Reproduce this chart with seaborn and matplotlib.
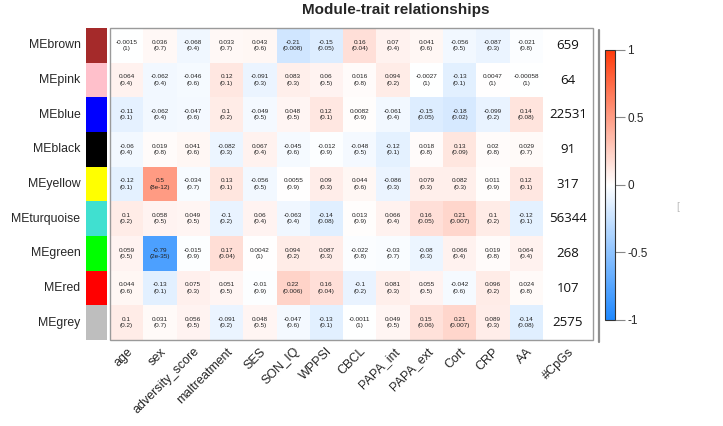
import numpy as np
import pandas as pd
import matplotlib
matplotlib.use("Agg")
import matplotlib.pyplot as plt
import seaborn as sns
from matplotlib.colors import LinearSegmentedColormap, ListedColormap
from matplotlib.patches import Rectangle
from matplotlib.lines import Line2D

# ---------------- data ----------------
modules = ["MEbrown", "MEpink", "MEblue", "MEblack", "MEyellow",
           "MEturquoise", "MEgreen", "MEred", "MEgrey"]
module_colors = ["#A52A2A", "#FFC0CB", "#0000FF", "#000000", "#FFFF00",
                 "#40E0D0", "#00FF00", "#FF0000", "#BEBEBE"]
traits = ["age", "sex", "adversity_score", "maltreatment", "SES", "SON_IQ",
          "WPPSI", "CBCL", "PAPA_int", "PAPA_ext", "Cort", "CRP", "AA"]
cpgs = [659, 64, 22531, 91, 317, 56344, 268, 107, 2575]

cor_brown = [-0.0015, 0.036, -0.068, 0.033, 0.043, -0.21, -0.15, 0.16, 0.07, 0.041, -0.056, -0.087, -0.021]
p_brown = [1, 0.7, 0.4, 0.7, 0.6, 0.008, 0.05, 0.04, 0.4, 0.6, 0.5, 0.3, 0.8]
cor_pink = [0.064, -0.062, -0.046, 0.12, -0.091, 0.083, 0.06, 0.016, 0.094, -0.0027, -0.13, 0.0047, -0.00058]
p_pink = [0.4, 0.4, 0.6, 0.1, 0.3, 0.3, 0.5, 0.8, 0.2, 1, 0.1, 1, 1]
cor_blue = [-0.11, -0.062, -0.047, 0.1, -0.049, 0.048, 0.12, 0.0082, -0.061, -0.15, -0.18, -0.099, 0.14]
p_blue = [0.1, 0.4, 0.6, 0.2, 0.5, 0.5, 0.1, 0.9, 0.4, 0.05, 0.02, 0.2, 0.08]
cor_black = [-0.06, 0.019, 0.041, -0.082, 0.067, -0.045, -0.012, -0.048, -0.12, 0.018, 0.13, 0.02, 0.029]
p_black = [0.4, 0.8, 0.6, 0.3, 0.4, 0.6, 0.9, 0.5, 0.1, 0.8, 0.09, 0.8, 0.7]
cor_yellow = [-0.12, 0.5, -0.034, 0.13, -0.056, 0.0055, 0.09, 0.044, -0.086, 0.079, 0.082, 0.011, 0.12]
p_yellow = [0.1, 8e-12, 0.7, 0.1, 0.5, 0.9, 0.3, 0.6, 0.3, 0.3, 0.3, 0.9, 0.1]
cor_turquoise = [0.1, 0.058, 0.049, -0.1, 0.06, -0.063, -0.14, 0.013, 0.066, 0.16, 0.21, 0.1, -0.12]
p_turquoise = [0.2, 0.5, 0.5, 0.2, 0.4, 0.4, 0.08, 0.9, 0.4, 0.05, 0.007, 0.2, 0.1]
cor_green = [0.059, -0.79, -0.015, 0.17, 0.0042, 0.094, 0.087, -0.022, -0.03, -0.08, 0.066, 0.019, 0.064]
p_green = [0.5, 2e-35, 0.9, 0.04, 1, 0.2, 0.3, 0.8, 0.7, 0.3, 0.4, 0.8, 0.4]
cor_red = [0.044, -0.13, 0.075, 0.051, -0.01, 0.22, 0.16, -0.1, 0.081, 0.055, -0.042, 0.096, 0.024]
p_red = [0.6, 0.1, 0.3, 0.5, 0.9, 0.006, 0.04, 0.2, 0.3, 0.5, 0.6, 0.2, 0.8]
cor_grey = [0.1, 0.031, 0.056, -0.091, 0.048, -0.047, -0.13, -0.0011, 0.049, 0.15, 0.21, 0.089, -0.14]
p_grey = [0.2, 0.7, 0.5, 0.2, 0.5, 0.6, 0.1, 1, 0.5, 0.06, 0.007, 0.3, 0.08]

cor_rows = [cor_brown, cor_pink, cor_blue, cor_black, cor_yellow,
            cor_turquoise, cor_green, cor_red, cor_grey]
p_rows = [p_brown, p_pink, p_blue, p_black, p_yellow,
          p_turquoise, p_green, p_red, p_grey]

# ---------------- style ----------------
sns.set_style("white")
plt.rcParams["font.family"] = ["Liberation Sans", "DejaVu Sans"]

W, H = 723, 426
fig = plt.figure(figsize=(W / 100, H / 100), dpi=100)

def fx(px):
    return px / W

def fy(py):
    return 1 - py / H

hm_l, hm_r, hm_t, hm_b = 110, 543, 28, 340
cp_r = 593

ax = fig.add_axes([fx(hm_l), fy(hm_b), fx(hm_r - hm_l), (hm_b - hm_t) / H])
ax_mod = fig.add_axes([fx(86), fy(hm_b), fx(21), (hm_b - hm_t) / H])
ax_cp = fig.add_axes([fx(hm_r), fy(hm_b), fx(cp_r - hm_r), (hm_b - hm_t) / H])
cax = fig.add_axes([fx(605), fy(320), fx(10), (320 - 50) / H])

df = pd.DataFrame(cor_rows, index=modules, columns=traits)
annot = np.array([[f"{c:.2g}\n({p:.1g})" for c, p in zip(cr, pr)]
                  for cr, pr in zip(cor_rows, p_rows)])

cmap = LinearSegmentedColormap.from_list(
    "bwr_wgcna", ["#1E88FF", "#FFFFFF", "#FF3A0A"])

sns.heatmap(df, ax=ax, cmap=cmap, vmin=-1, vmax=1, annot=annot, fmt="",
            annot_kws={"fontsize": 4.6, "color": "#222222", "linespacing": 1.4},
            cbar_ax=cax, linewidths=0, xticklabels=True, yticklabels=False)
ax.set_xlabel("")
ax.set_ylabel("")
ax.tick_params(axis="x", length=0, pad=4)
ax.set_xticklabels(traits, rotation=45, ha="right", rotation_mode="anchor",
                   fontsize=9)

# module colour strip
mod_df = pd.DataFrame(np.arange(len(modules)).reshape(-1, 1), index=modules,
                      columns=["module"])
sns.heatmap(mod_df, ax=ax_mod, cmap=ListedColormap(module_colors), cbar=False,
            xticklabels=False, yticklabels=True, linewidths=0)
ax_mod.set_xlabel("")
ax_mod.set_ylabel("")
ax_mod.tick_params(axis="y", length=0, pad=4)
ax_mod.set_yticklabels(modules, rotation=0, fontsize=8.8)

# #CpGs column
ax_cp.set_xlim(0, 1)
ax_cp.set_ylim(len(modules), 0)
for i, n in enumerate(cpgs):
    ax_cp.text(0.5, i + 0.5, str(n), ha="center", va="center", fontsize=9.5,
               family=["Open Sans", "DejaVu Sans"], color="#111111")
ax_cp.set_yticks([])
ax_cp.set_xticks([0.5])
ax_cp.set_xticklabels(["#CpGs"], rotation=45, ha="right",
                      rotation_mode="anchor", fontsize=9)
ax_cp.tick_params(axis="x", length=0, pad=4)
for s in ax_cp.spines.values():
    s.set_visible(False)

# frame round heatmap + CpG column
fig.add_artist(Rectangle((fx(hm_l), fy(hm_b)), fx(cp_r - hm_l),
                         (hm_b - hm_t) / H, fill=False,
                         edgecolor="#9a9a9a", lw=1.0,
                         transform=fig.transFigure))
fig.add_artist(Line2D([fx(599), fx(599)], [fy(30), fy(342)],
                      color="#8f8f8f", lw=1.6, transform=fig.transFigure))

# colour bar
cbar = ax.collections[0].colorbar
cbar.set_ticks([-1, -0.5, 0, 0.5, 1])
cbar.set_ticklabels(["-1", "-0.5", "0", "0.5", "1"])
cbar.outline.set_edgecolor("#333333")
cbar.outline.set_linewidth(0.8)
cax.tick_params(axis="y", length=7, width=0.8, color="#888888",
                labelsize=8.5, pad=2)

fig.text(fx(396), fy(10), "Module-trait relationships", ha="center",
         va="center", fontsize=11, fontweight="bold",
         family=["Liberation Sans Narrow", "Liberation Sans", "DejaVu Sans"])

fig.text(fx(678), fy(207), "[", ha="center", va="center", fontsize=7,
         color="#bbbbbb")

fig.savefig("out.png", dpi=100)
